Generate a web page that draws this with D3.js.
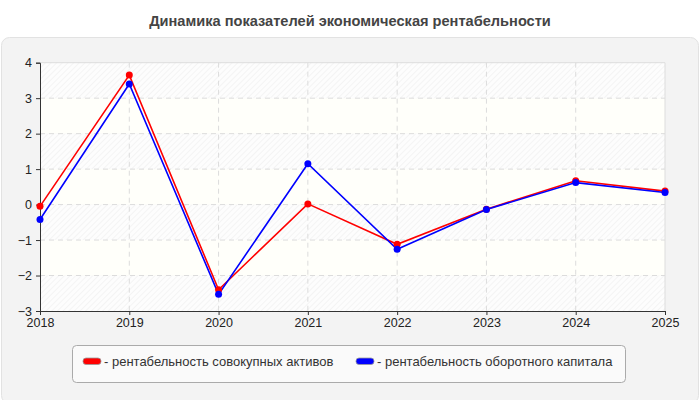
<!DOCTYPE html>
<html><head><meta charset="utf-8">
<script src="https://cdn.jsdelivr.net/npm/d3@7"></script>
<style>body{margin:0;background:#fff}svg{display:block;font-family:"Liberation Sans",Arial,sans-serif}</style>
</head><body><svg id="c" width="700" height="400"></svg>
<script>
const years = ["2018","2019","2020","2021","2022","2023","2024","2025"];
const assets = [-0.05, 3.65, -2.40, 0.02, -1.12, -0.13, 0.67, 0.38];
const capital = [-0.42, 3.40, -2.53, 1.15, -1.26, -0.14, 0.62, 0.34];
const yTicks = [-3,-2,-1,0,1,2,3,4];
const seriesNames = ["- рентабельность совокупных активов","- рентабельность оборотного капитала"];
const seriesColors = ["#ff0000","#0000ff"];
const title = "Динамика показателей экономическая рентабельности";

const svg = d3.select("#c");
const defs = svg.append("defs");
const pat = defs.append("pattern").attr("id","hatch").attr("patternUnits","userSpaceOnUse")
  .attr("width",4).attr("height",4).attr("patternTransform","rotate(45)");
pat.append("rect").attr("width",4).attr("height",4).attr("fill","#fdfdfd");
pat.append("line").attr("x1",0).attr("y1",0).attr("x2",0).attr("y2",4).attr("stroke","#ececec").attr("stroke-width",1);

svg.append("text").attr("x",350).attr("y",26).attr("text-anchor","middle")
  .attr("font-size",14.6).attr("font-weight","bold").attr("fill","#444").text(title);
svg.append("rect").attr("x",1.5).attr("y",37.5).attr("width",697).attr("height",366).attr("rx",8)
  .attr("fill","#f3f3f3").attr("stroke","#e2e2e2");

const L=40,R=665,T=62.7,B=311;
const x = d3.scalePoint().domain(years).range([L,R]);
const y = d3.scaleLinear().domain([-3,4]).range([B,T]);

for(let i=0;i<7;i++){
  const v0=-3+i, v1=v0+1;
  svg.append("rect").attr("x",L).attr("width",R-L).attr("y",y(v1)).attr("height",y(v0)-y(v1))
    .attr("fill", i%2===0 ? "url(#hatch)" : "#fffffa");
}
// grid
svg.append("g").selectAll("line").data(yTicks.slice(1,-1)).join("line")
  .attr("x1",L).attr("x2",R).attr("y1",d=>y(d)).attr("y2",d=>y(d))
  .attr("stroke","#dcdcdc").attr("stroke-dasharray","5,4");
svg.append("g").selectAll("line").data(years.slice(1,-1)).join("line")
  .attr("y1",T).attr("y2",B).attr("x1",d=>x(d)).attr("x2",d=>x(d))
  .attr("stroke","#dcdcdc").attr("stroke-dasharray","5,4");
// top/right border
svg.append("path").attr("d",`M${L},${T}H${R}V${B}`).attr("fill","none").attr("stroke","#ddd");

const ax = svg.append("g").attr("transform",`translate(0,${B})`).call(d3.axisBottom(x).tickSize(4).tickPadding(3));
const ay = svg.append("g").attr("transform",`translate(${L},0)`).call(d3.axisLeft(y).tickValues(yTicks).tickFormat(d3.format("d")).tickSize(4).tickPadding(4));
[ax,ay].forEach(a=>{a.select(".domain").attr("stroke","#333");a.selectAll(".tick line").attr("stroke","#333");
  a.selectAll("text").attr("font-size",12.5).attr("fill","#222").attr("font-family","'Liberation Sans',Arial,sans-serif");});

const data=[assets,capital];
data.forEach((vals,si)=>{
  const line=d3.line().x((d,i)=>x(years[i])).y(d=>y(d));
  svg.append("path").datum(vals).attr("d",line).attr("fill","none").attr("stroke",seriesColors[si]).attr("stroke-width",1.6);
});
data.forEach((vals,si)=>{
  svg.append("g").selectAll("circle").data(vals).join("circle")
    .attr("cx",(d,i)=>x(years[i])).attr("cy",d=>y(d)).attr("r",3.5).attr("fill",seriesColors[si]);
});

// legend
svg.append("rect").attr("x",72.5).attr("y",345.5).attr("width",553).attr("height",37).attr("rx",4)
  .attr("fill","#fafafa").attr("stroke","#aaa");
const lx=[83,356];
seriesNames.forEach((n,i)=>{
  svg.append("rect").attr("x",lx[i]).attr("y",358).attr("width",18).attr("height",6.5).attr("rx",3)
    .attr("fill",seriesColors[i]).attr("stroke","#999").attr("stroke-width",0.8);
  svg.append("text").attr("x",lx[i]+21).attr("y",366).attr("font-size",13).attr("fill","#333").text(n);
});
</script></body></html>
